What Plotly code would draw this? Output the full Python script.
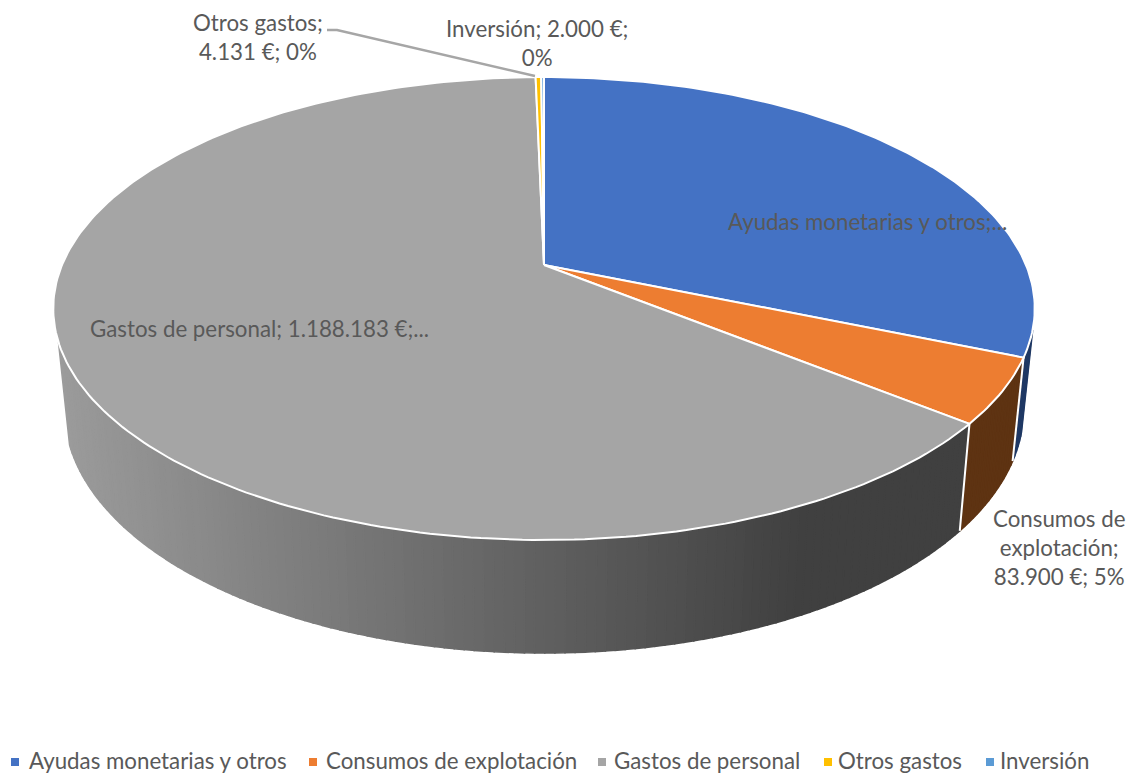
import math
import plotly.graph_objects as go

categories = ["Ayudas monetarias y otros", "Consumos de explotación", "Gastos de personal", "Otros gastos", "Inversión"]
values = [582000, 83900, 1188183, 4131, 2000]
top_colors = ["#4472C4", "#ED7D31", "#A5A5A5", "#FFC000", "#5B9BD5"]
side_colors = ["#1F3864", "#5E3312", None, "#7F6000", "#2E4E6B"]
label_texts = ["Ayudas monetarias y otros;...", "Consumos de<br>explotación;<br>83.900 €; 5%",
               "Gastos de personal; 1.188.183 €;...", "Otros gastos;<br>4.131 €; 0%", "Inversión; 2.000 €;<br>0%"]

TEXT = "#595959"
FONT = "Lato"
FS = 22.3
CX = 544
TOP = dict(R=482.0, S=223.3, k=0.188, yc=265.0)
BOT = dict(R=471.0, S=235.0, k=0.188, yc=363.6)


def proj(a_deg, c):
    a = math.radians(a_deg)
    u, d = math.sin(a), -math.cos(a)
    w = 1 - c["k"] * d
    return CX + c["R"] * u / w, c["yc"] + c["S"] * d / w


def frange(a, b, step=1.0):
    n = max(2, int(abs(b - a) / step) + 1)
    return [a + (b - a) * i / (n - 1) for i in range(n)]


total = sum(values)
bounds = [0.0]
for v in values:
    bounds.append(bounds[-1] + 360.0 * v / total)

fig = go.Figure()


def poly(xs, ys, fill, line=None, width=0):
    fig.add_trace(go.Scatter(x=xs, y=ys, mode="lines", fill="toself", fillcolor=fill,
                             line=dict(color=line or fill, width=width if line else 1.6),
                             hoverinfo="skip", showlegend=False))


def grey_at(x):
    t = max(0.0, min(1.0, (x - 55) / (800 - 55)))
    g = round(0x9C + (0x40 - 0x9C) * t)
    return f"rgb({g},{g},{g})"


# side wall, visible part only
VIS_A, VIS_B = 106.0, 251.0
for i in range(3):
    a1, a2 = max(bounds[i], VIS_A), min(bounds[i + 1], VIS_B)
    for s, e in zip(frange(a1, a2)[:-1], frange(a1, a2)[1:]):
        pts = [proj(s, TOP), proj(e, TOP), proj(e, BOT), proj(s, BOT)]
        xs = [p[0] for p in pts] + [pts[0][0]]
        ys = [p[1] for p in pts] + [pts[0][1]]
        col = side_colors[i] or grey_at(sum(xs[:4]) / 4)
        poly(xs, ys, col)

# white seams on the wall
for a in bounds[1:3]:
    p, q = proj(a, TOP), proj(a, BOT)
    fig.add_trace(go.Scatter(x=[p[0], q[0]], y=[p[1], q[1]], mode="lines",
                             line=dict(color="white", width=2), hoverinfo="skip", showlegend=False))

# top slices
for i in range(5):
    arc = [proj(a, TOP) for a in frange(bounds[i], bounds[i + 1])]
    xs = [CX] + [p[0] for p in arc] + [CX]
    ys = [TOP["yc"]] + [p[1] for p in arc] + [TOP["yc"]]
    poly(xs, ys, top_colors[i], line="white", width=2)

# leader line
fig.add_trace(go.Scatter(x=[327, 337, 535], y=[30, 30, 76], mode="lines",
                         line=dict(color="#A6A6A6", width=2.4), hoverinfo="skip", showlegend=False))

# key along the bottom
key_marker_x = [15, 313, 602, 828, 990]
key_text_x = [27, 324, 612, 836, 998]
KEY_Y = 760
for name, col, mx, tx in zip(categories, top_colors, key_marker_x, key_text_x):
    fig.add_trace(go.Scatter(x=[mx], y=[KEY_Y + 2], mode="markers", name=name, showlegend=False,
                             marker=dict(symbol="square", size=8, color=col)))
    fig.add_annotation(x=tx, y=KEY_Y, text=name, showarrow=False, xanchor="left", yanchor="middle",
                       font=dict(family=FONT, size=FS, color=TEXT))

label_pos = [(867, 221), (1059, 547), (259, 328), (258, 37), (537, 43)]
for txt, (x, y) in zip(label_texts, label_pos):
    fig.add_annotation(x=x, y=y, text=txt, showarrow=False, xanchor="center", yanchor="middle",
                       align="center", font=dict(family=FONT, size=FS, color=TEXT))

fig.update_layout(
    width=1129, height=774, margin=dict(l=0, r=0, t=0, b=0), showlegend=False,
    paper_bgcolor="white", plot_bgcolor="white", font=dict(family=FONT, size=FS, color=TEXT),
    xaxis=dict(range=[0, 1129], visible=False, fixedrange=True),
    yaxis=dict(range=[774, 0], visible=False, fixedrange=True),
)
fig.write_html("out.html", config=dict(displayModeBar=False), post_script="document.body.style.margin='0';")
